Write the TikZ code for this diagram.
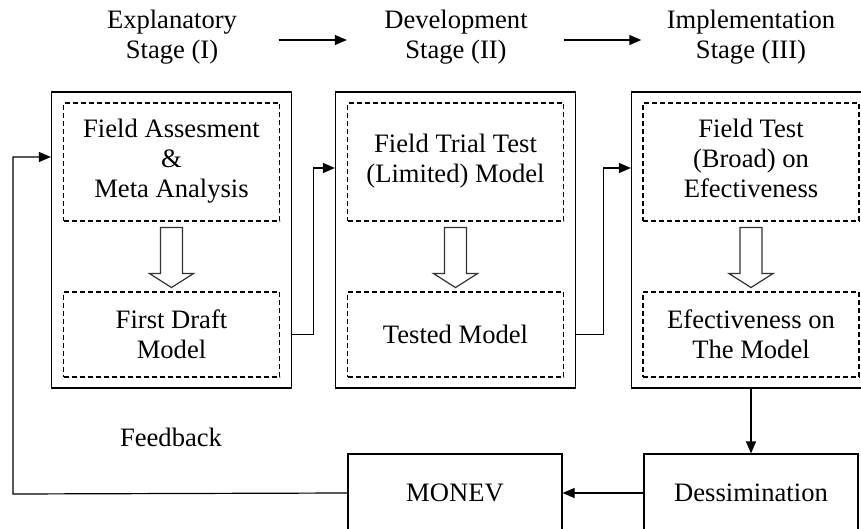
\documentclass[tikz,border=0pt]{standalone}
\usepackage{fontspec}
\setmainfont{Liberation Serif}
\usetikzlibrary{
	positioning,
	arrows.meta,
	calc
}

\begin{document}
\begin{tikzpicture}[
				x=1pt,y=-1pt,
				every node/.style={
					font=\fontsize{26.6}{30}\selectfont,
					align=center
				},
				stagebox/.style={
					draw,
					line width=1.2pt,
					minimum width=240pt,
					minimum height=296pt
				},
				innerbox/.style={
					draw,
					dashed,
					dash pattern=on 5pt off 3pt,
					line width=1.1pt,
					minimum width=216pt
				},
				plainbox/.style={
					draw,
					line width=1.2pt,
					minimum width=214pt,
					minimum height=78pt
				},
				flow/.style={
					-{Triangle[length=12pt,width=10pt]},
					line width=1.2pt
				},
				hollow/.style={
					draw=black!80,
					line width=1.2pt,
					fill=white
				}
				]
				
				\useasboundingbox (0,0) rectangle (861,529);
				
				\node (h1) at (172,37) {Explanatory\\Stage (I)};
				\node (h2) at (456,37) {Development\\Stage (II)};
				\node (h3) at (751,37) {Implementation\\Stage (III)};
				
				\node[stagebox] (s1) at (171.5,240) {};
				\node[stagebox] (s2) at (455.5,240) {};
				\node[stagebox] (s3) at (751.5,240) {};
				
				\node[innerbox, minimum height=118pt] (t1) at (171.5,162) {Field Assesment\\\&\\Meta Analysis\\[-22pt]};
				\node[innerbox, minimum height=85pt] (b1) at (171.5,334.5) {First Draft\\Model};
				\node[innerbox, minimum height=118pt] (t2) at (455.5,162) {Field Trial Test\\(Limited) Model\\[-22pt]};
				\node[innerbox, minimum height=85pt] (b2) at (455.5,334.5) {Tested Model};
				\node[innerbox, minimum height=118pt] (t3) at (751,162) {Field Test\\(Broad) on\\Efectiveness\\[-22pt]};
				\node[innerbox, minimum height=85pt] (b3) at (751,334.5) {Efectiveness on\\The Model};
				
				\foreach \n in {1,2,3}
				\draw[hollow] ($(t\n.south)+(-11,6)$) -- ++(0,46) -- ++(-11,0) -- ++(22,14) -- ++(22,-14) -- ++(-11,0) -- ++(0,-46) -- cycle;
				
				\node[plainbox] (dis) at (751,493) {Dessimination};
				\node[plainbox] (mon) at (455,493) {MONEV};
				\node (fb) at (171,437) {Feedback};
				\coordinate (corner) at (13,494);
				
				\draw[
				flow,
				shorten <=38pt,
				shorten >=34pt
				] ([yshift=-3pt]h1.east) -- ([yshift=-3pt]h2.west);
				
				\draw[
				flow,
				shorten <=33pt,
				shorten >=22pt
				] ([yshift=-3pt]h2.east) -- ([yshift=-3pt]h3.west);
				
				\draw[flow] (s1.east |- b1) -| ($(s1.east)!0.5!(s2.west)$) |- ([yshift=-6pt]s2.west |- t2);
				\draw[flow] (s2.east |- b2) -| ($(s2.east)!0.5!(s3.west)$) |- ([yshift=-6pt]s3.west |- t3);
				\draw[flow] (s3.south -| dis) -- (dis.north);
				\draw[flow] (dis) -- (mon);
				\draw[flow] (mon.west) -- (corner) |- ([yshift=5pt]s1.west |- t1);
				
			\end{tikzpicture}
\end{document}
